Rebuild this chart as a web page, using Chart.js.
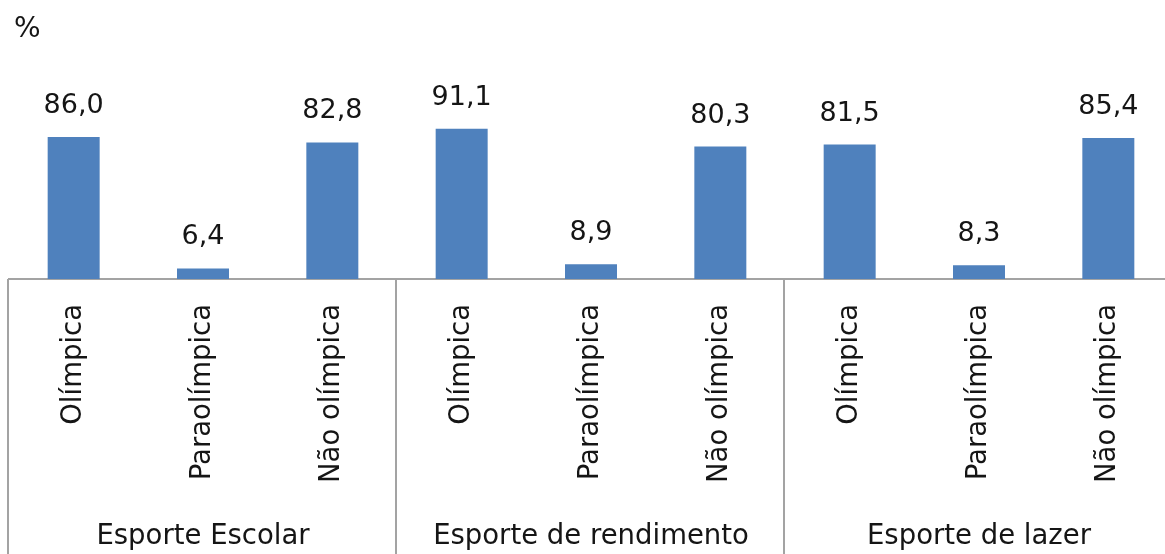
<!DOCTYPE html>
<html>
<head>
<meta charset="utf-8">
<script src="https://cdn.jsdelivr.net/npm/chart.js@4/dist/chart.umd.min.js"></script>
<style>
  html, body { margin: 0; padding: 0; background: #ffffff; overflow: hidden; width: 1165px; height: 554px; }
  #wrap { width: 1165px; height: 554px; overflow: hidden; position: relative; }
  canvas { display: block; }
</style>
</head>
<body>
<div id="wrap"><canvas id="c" width="1175" height="554"></canvas></div>
<script>
// ---- data ----
const groups = ['Esporte Escolar', 'Esporte de rendimento', 'Esporte de lazer'];
const types = ['Olímpica', 'Paraolímpica', 'Não olímpica'];
const escolar = [86.0, 6.4, 82.8];
const rendimento = [91.1, 8.9, 80.3];
const lazer = [81.5, 8.3, 85.4];
const unitLabel = '%';

const values = escolar.concat(rendimento, lazer);
const categories = [];
groups.forEach(() => types.forEach(t => categories.push(t)));

const FONT = '"DejaVu Sans", Verdana, sans-serif';
const TEXT = '#151515';
const LINE = '#a3a3a3';

const extras = {
  id: 'extras',
  afterDatasetsDraw(chart) {
    const ctx = chart.ctx;
    const meta = chart.getDatasetMeta(0);
    ctx.save();
    ctx.font = '27px ' + FONT;
    ctx.fillStyle = TEXT;
    ctx.textAlign = 'center';
    ctx.textBaseline = 'alphabetic';
    meta.data.forEach((bar, i) => {
      const txt = values[i].toFixed(1).replace('.', ',');
      ctx.fillText(txt, bar.x, bar.y - 24);
    });
    ctx.restore();
  },
  afterDraw(chart) {
    const ctx = chart.ctx;
    const xs = chart.scales.x;
    const bottom = chart.chartArea.bottom;
    ctx.save();
    ctx.strokeStyle = LINE;
    ctx.lineWidth = 2;
    for (let g = 0; g <= groups.length; g++) {
      const px = Math.round(xs.getPixelForValue(g * types.length - 0.5)) - 1;
      ctx.beginPath();
      ctx.moveTo(px, bottom);
      ctx.lineTo(px, chart.height);
      ctx.stroke();
    }
    ctx.font = '28px ' + FONT;
    ctx.fillStyle = TEXT;
    ctx.textAlign = 'left';
    ctx.textBaseline = 'alphabetic';
    ctx.fillText(unitLabel, 14, 37);
    ctx.restore();
  }
};

new Chart(document.getElementById('c'), {
  type: 'bar',
  data: {
    labels: categories,
    datasets: [{
      data: values,
      backgroundColor: '#4F81BD',
      borderWidth: 0,
      categoryPercentage: 1.0,
      barPercentage: 0.402,
      xAxisID: 'x',
      yAxisID: 'y'
    }]
  },
  options: {
    responsive: false,
    animation: false,
    layout: { padding: { top: 114, left: 9, right: 2, bottom: 0 } },
    plugins: { legend: { display: false }, tooltip: { enabled: false }, title: { display: false } },
    scales: {
      y: { display: false, min: 0, max: 100 },
      x: {
        type: 'category',
        position: 'bottom',
        weight: 0,
        offset: true,
        grid: { display: false },
        border: { display: true, color: LINE, width: 2 },
        ticks: {
          autoSkip: false,
          minRotation: 90,
          maxRotation: 90,
          padding: 17,
          color: TEXT,
          font: { family: FONT, size: 27.5 }
        },
        afterFit(s) { s.height = 230; }
      },
      x2: {
        type: 'category',
        position: 'bottom',
        weight: 1,
        labels: groups,
        offset: true,
        grid: { display: false },
        border: { display: false },
        ticks: {
          autoSkip: false,
          maxRotation: 0,
          minRotation: 0,
          padding: 3,
          color: TEXT,
          font: { family: FONT, size: 27.5 }
        },
        afterFit(s) { s.height = 45; }
      }
    }
  },
  plugins: [extras]
});
</script>
</body>
</html>
